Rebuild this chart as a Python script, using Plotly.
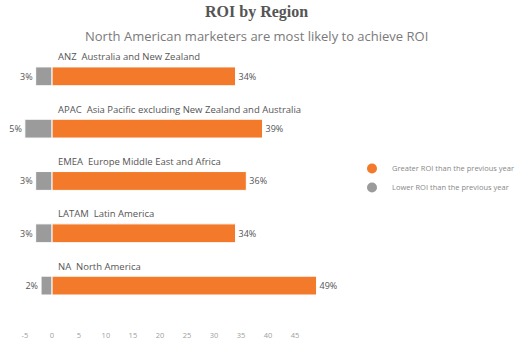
import plotly.graph_objects as go

regions = ["ANZ\u00a0 Australia and New Zealand",
           "APAC\u00a0 Asia Pacific excluding New Zealand and Australia",
           "EMEA\u00a0 Europe Middle East and Africa",
           "LATAM\u00a0 Latin America",
           "NA\u00a0 North America"]
greater = [34, 39, 36, 34, 49]
lower = [3, 5, 3, 3, 2]
tick_vals = [-5, 0, 5, 10, 15, 20, 25, 30, 35, 40, 45]

ORANGE = "#F47A2B"
GREY = "#9B9B9B"
FONT = "Open Sans"

pos = list(range(len(regions)))

fig = go.Figure()
fig.add_trace(go.Bar(
    y=pos, x=greater, orientation="h", marker=dict(color=ORANGE, line=dict(color="white", width=1)),
    width=0.36, text=[f"{v}%" for v in greater], textposition="outside",
    textfont=dict(size=9, color="#555555", family=FONT), cliponaxis=False,
    showlegend=False, hoverinfo="skip"))
fig.add_trace(go.Bar(
    y=pos, x=[-v for v in lower], orientation="h", marker=dict(color=GREY, line=dict(color="white", width=1)),
    width=0.36, text=[f"{v}%" for v in lower], textposition="outside",
    textfont=dict(size=9, color="#555555", family=FONT), cliponaxis=False,
    showlegend=False, hoverinfo="skip"))

fig.add_trace(go.Scatter(x=[None], y=[None], mode="markers", name="Greater ROI than the previous year",
                         marker=dict(color=ORANGE, size=10, symbol="circle")))
fig.add_trace(go.Scatter(x=[None], y=[None], mode="markers", name="Lower ROI than the previous year",
                         marker=dict(color=GREY, size=10, symbol="circle")))

for i, r in enumerate(regions):
    fig.add_annotation(x=0, y=i - 0.37, xref="x", yref="y", text=r, showarrow=False,
                       xanchor="left", yanchor="middle", xshift=4,
                       font=dict(size=9.5, color="#555555", family=FONT))

W_PLOT = 376
TOP = 46
H_PLOT = 283
fig.add_annotation(x=256 / W_PLOT, y=1 + (TOP - 12) / H_PLOT, xref="paper", yref="paper",
                   text="<b>ROI by Region</b>", showarrow=False, xanchor="center", yanchor="middle",
                   font=dict(size=16, color="#555555", family="Liberation Serif"))
fig.add_annotation(x=256 / W_PLOT, y=1 + (TOP - 36) / H_PLOT, xref="paper", yref="paper",
                   text="North American marketers are most likely to achieve ROI", showarrow=False,
                   xanchor="center", yanchor="middle",
                   font=dict(size=13, color="#7a7a7a", family=FONT))

fig.update_layout(
    width=519, height=346,
    margin=dict(l=0, r=519 - W_PLOT, t=TOP, b=346 - TOP - H_PLOT, autoexpand=False),
    barmode="overlay",
    plot_bgcolor="white", paper_bgcolor="white",
    xaxis=dict(range=[-9.6, 60], tickvals=tick_vals, ticktext=[str(v) for v in tick_vals],
               showgrid=False, zeroline=False, showline=False,
               tickfont=dict(size=7.5, color="#a0a0a0", family=FONT)),
    yaxis=dict(range=[4.83, -0.58], showticklabels=False, showgrid=False, zeroline=False,
               showline=False),
    legend=dict(x=352 / W_PLOT, y=1 - (178 - TOP) / H_PLOT, xanchor="left", yanchor="middle",
                xref="paper", yref="paper",
                font=dict(size=7.5, color="#888888", family=FONT)),
    showlegend=True,
)

fig.write_html("out.html")
